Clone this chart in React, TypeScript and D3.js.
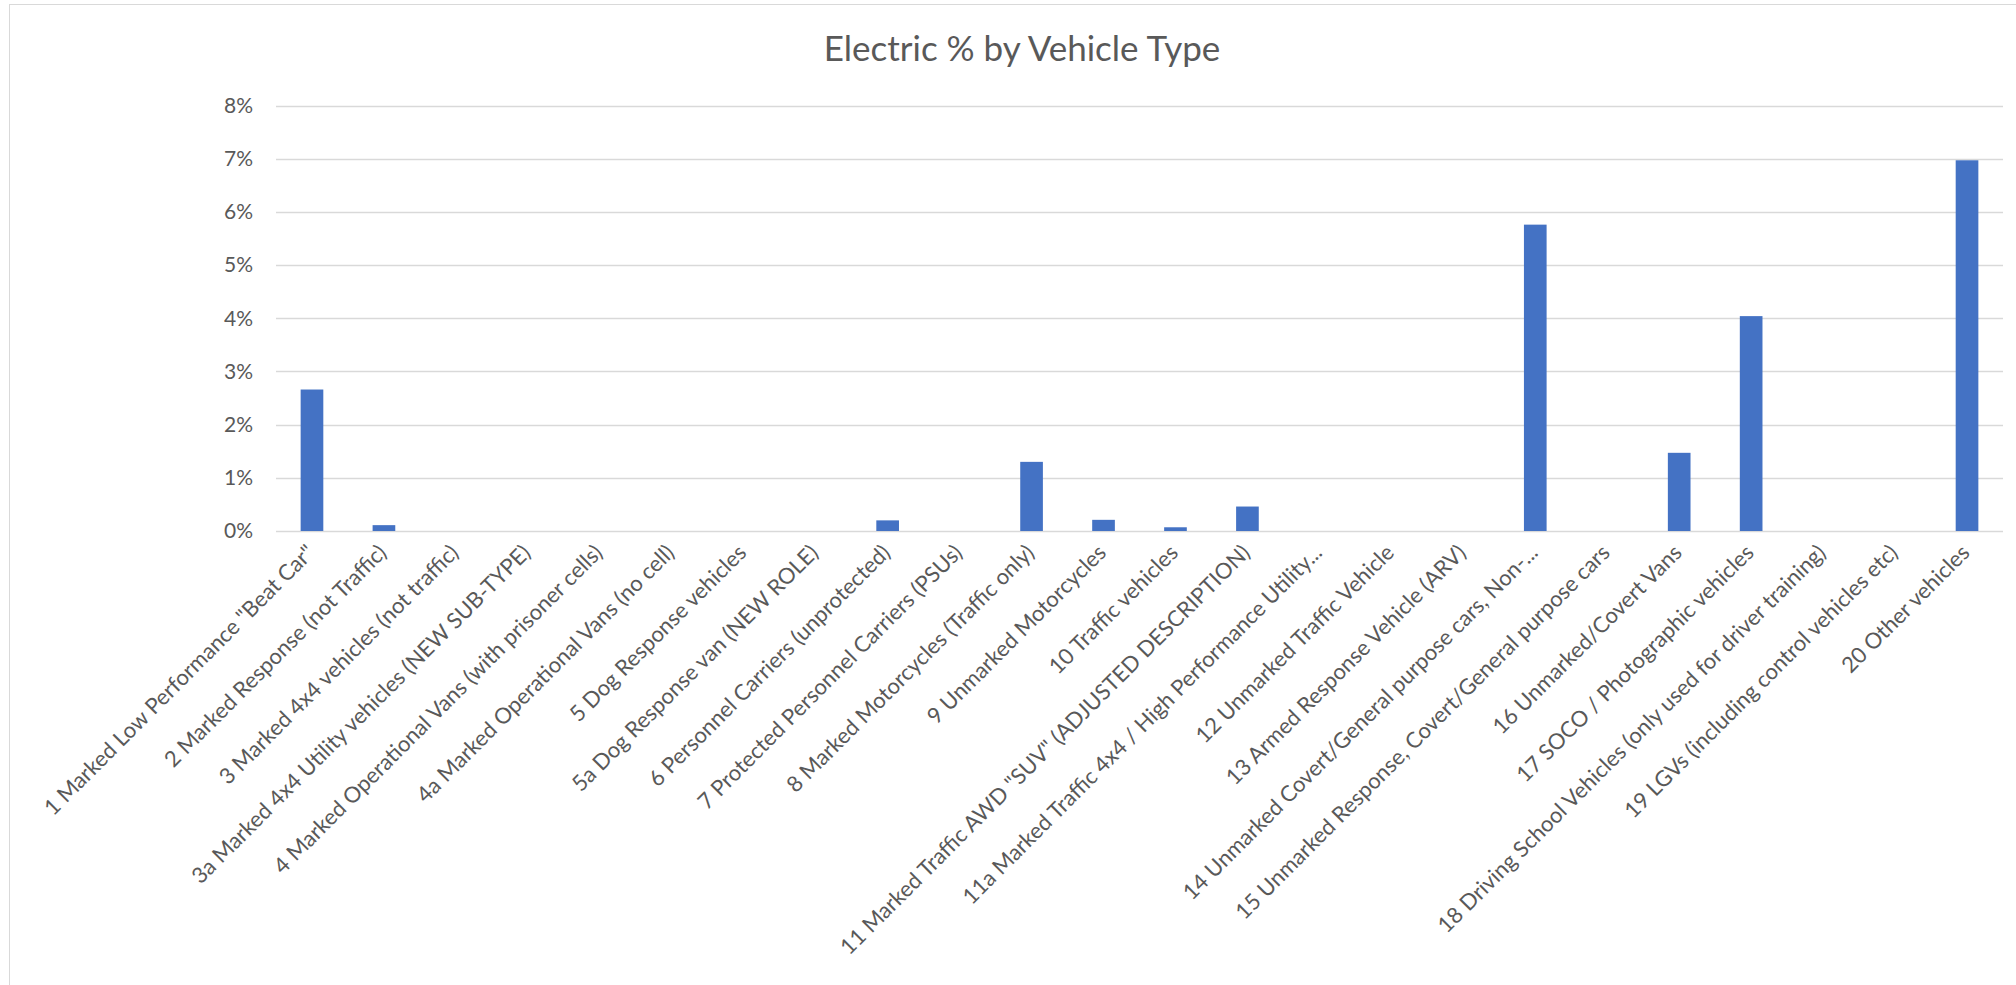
import React from "react";
import * as d3 from "d3";

// vehicle categories, in sheet order
const categories = [
  "1 Marked Low Performance \"Beat Car\"",
  "2 Marked Response (not Traffic)",
  "3 Marked 4x4 vehicles (not traffic)",
  "3a Marked 4x4 Utility vehicles (NEW SUB-TYPE)",
  "4 Marked Operational Vans (with prisoner cells)",
  "4a Marked Operational Vans (no cell)",
  "5 Dog Response vehicles",
  "5a Dog Response van (NEW ROLE)",
  "6 Personnel Carriers (unprotected)",
  "7 Protected Personnel Carriers (PSUs)",
  "8 Marked Motorcycles (Traffic only)",
  "9 Unmarked Motorcycles",
  "10 Traffic vehicles",
  "11 Marked Traffic AWD \"SUV\" (ADJUSTED DESCRIPTION)",
  "11a Marked Traffic 4x4 / High Performance Utility...",
  "12 Unmarked Traffic Vehicle",
  "13 Armed Response Vehicle (ARV)",
  "14 Unmarked Covert/General purpose cars, Non-...",
  "15 Unmarked Response, Covert/General purpose cars",
  "16 Unmarked/Covert Vans",
  "17 SOCO / Photographic vehicles",
  "18 Driving School Vehicles (only used for driver training)",
  "19 LGVs (including control vehicles etc)",
  "20 Other vehicles",
];

// electric share, in percent
const electricPct = [
  2.66, 0.11, 0, 0, 0, 0, 0, 0, 0.2, 0, 1.3, 0.21, 0.07, 0.46, 0, 0, 0, 5.76,
  0, 1.47, 4.04, 0, 0, 6.97,
];

const yTicks = [0, 1, 2, 3, 4, 5, 6, 7, 8];

const W = 2016;
const H = 985;
const FONT = "Lato, Carlito, Calibri, sans-serif";

const App = () => {
  const x = d3
    .scaleBand()
    .domain(categories)
    .range([276, 2003])
    .paddingInner(0.685)
    .paddingOuter(0.3425);

  const y = d3.scaleLinear().domain([0, 8]).range([531, 105.5]);

  return (
    <div style={{ position: "absolute", left: 0, top: 0 }}>
      <svg width={W} height={H} style={{ display: "block", background: "#fff" }}>
        {/* chart frame (only top/left edge visible in the crop) */}
        <rect x={9.5} y={4.5} width={W + 20} height={H + 20} fill="#fff" stroke="#d9d9d9" />

        <text
          x={1022}
          y={61}
          textAnchor="middle"
          fontFamily={FONT}
          fontSize={35}
          fill="#595959"
        >
          Electric % by Vehicle Type
        </text>

        {/* gridlines and y labels */}
        {yTicks.map((t) => (
          <g key={t}>
            <line
              x1={276}
              x2={2003}
              y1={Math.round(y(t)) + 0.5}
              y2={Math.round(y(t)) + 0.5}
              stroke="#d9d9d9"
              strokeWidth={1.5}
            />
            <text
              x={253}
              y={y(t)}
              dy="0.35em"
              textAnchor="end"
              fontFamily={FONT}
              fontSize={21}
              fill="#595959"
            >
              {t + "%"}
            </text>
          </g>
        ))}

        {/* bars */}
        {categories.map((c, i) => (
          <rect
            key={c}
            x={x(c)}
            y={y(electricPct[i])}
            width={x.bandwidth()}
            height={y(0) - y(electricPct[i])}
            fill="#4472C4"
          />
        ))}

        {/* rotated category labels */}
        {categories.map((c) => {
          const cx = (x(c) as number) + x.bandwidth() / 2;
          return (
            <text
              key={c}
              transform={`translate(${cx + 4},554) rotate(-45)`}
              textAnchor="end"
              fontFamily={FONT}
              fontSize={22}
              fill="#595959"
            >
              {c}
            </text>
          );
        })}
      </svg>
    </div>
  );
};

export default App;
